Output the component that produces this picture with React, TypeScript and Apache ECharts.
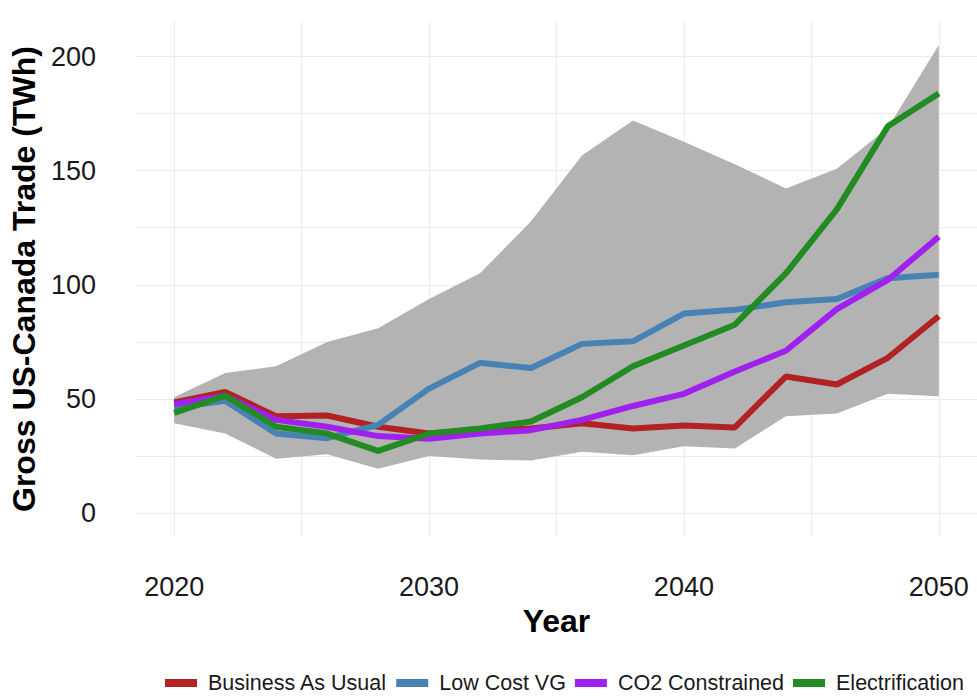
import React, { useEffect, useRef } from "react";
import * as echarts from "echarts";

const years = [2020, 2022, 2024, 2026, 2028, 2030, 2032, 2034, 2036, 2038, 2040, 2042, 2044, 2046, 2048, 2050];
const bandLower = [39.3, 34.8, 23.8, 25.7, 19.4, 25.0, 23.4, 23.0, 26.8, 25.3, 29.2, 28.3, 42.4, 43.6, 52.2, 51.1];
const bandUpper = [50.7, 61.3, 64.3, 74.9, 80.9, 93.8, 105.0, 127.8, 156.6, 172.0, 162.6, 152.8, 142.2, 150.8, 168.7, 205.0];
const businessAsUsual = [48.4, 53.0, 42.4, 42.7, 37.8, 34.8, 36.3, 37.0, 39.3, 37.0, 38.3, 37.5, 59.8, 56.3, 68.0, 86.2];
const lowCostVG = [46.1, 49.2, 34.8, 32.8, 38.6, 54.5, 65.8, 63.5, 74.1, 75.2, 87.4, 89.0, 92.3, 93.8, 102.9, 104.4];
const co2Constrained = [47.7, 51.4, 40.8, 37.8, 33.7, 32.5, 34.8, 36.3, 40.8, 46.9, 52.2, 62.0, 71.1, 89.3, 102.1, 121.0];
const electrification = [43.9, 51.4, 37.8, 34.8, 27.2, 34.8, 37.0, 40.1, 50.7, 64.3, 73.4, 82.5, 105.0, 133.0, 169.4, 183.8];

const seriesNames = ["Business As Usual", "Low Cost VG", "CO2 Constrained", "Electrification"];
const seriesColors = ["#B22222", "#4682B4", "#A020F0", "#228B22"];
const seriesValues = [businessAsUsual, lowCostVG, co2Constrained, electrification];

const xGridValues = [2020, 2025, 2030, 2035, 2040, 2045, 2050];
const xLabelValues = [2020, 2030, 2040, 2050];
const yGridValues = [0, 25, 50, 75, 100, 125, 150, 175, 200];
const yLabelValues = [0, 50, 100, 150, 200];

const FONT = "'Liberation Sans', Arial, sans-serif";

export default function App() {
  const ref = useRef<HTMLDivElement>(null);

  useEffect(() => {
    if (!ref.current) return;
    const chart = echarts.init(ref.current, null, { renderer: "svg" });
    const zip = (vals: number[]) => years.map((y, i) => [y, vals[i]]);

    const option: any = {
      animation: false,
      backgroundColor: "#ffffff",
      textStyle: { fontFamily: FONT },
      grid: { left: 134.75, top: 21.7, width: 848.1, height: 514.7, containLabel: false },
      xAxis: {
        type: "value",
        min: 2018.5,
        max: 2051.5,
        name: "Year",
        nameLocation: "middle",
        nameGap: 67,
        nameTextStyle: { fontFamily: FONT, fontSize: 32, fontWeight: "bold", color: "#000" },
        axisLine: { show: false },
        axisTick: { show: false, customValues: xGridValues },
        axisLabel: {
          customValues: xLabelValues,
          fontFamily: FONT,
          fontSize: 27,
          color: "#1a1a1a",
          margin: 37,
          formatter: (v: number) => String(v),
        },
        splitLine: { show: true, lineStyle: { color: "#ebebeb", width: 1 } },
      },
      yAxis: {
        type: "value",
        min: -10.25,
        max: 215.25,
        name: "Gross US-Canada Trade (TWh)",
        nameLocation: "middle",
        nameGap: 86,
        nameRotate: 90,
        nameTextStyle: { fontFamily: FONT, fontSize: 32, fontWeight: "bold", color: "#000" },
        axisLine: { show: false },
        axisTick: { show: false, customValues: yGridValues },
        axisLabel: {
          customValues: yLabelValues,
          fontFamily: FONT,
          fontSize: 27,
          color: "#1a1a1a",
          margin: 40,
          formatter: (v: number) => String(v),
        },
        splitLine: { show: true, lineStyle: { color: "#ebebeb", width: 1 } },
      },
      legend: {
        data: seriesNames,
        left: 160,
        top: 667,
        icon: "rect",
        itemWidth: 32,
        itemHeight: 8,
        itemGap: 9,
        textStyle: { fontFamily: FONT, fontSize: 21.5, color: "#1a1a1a", padding: [0, 0, 0, 6] },
      },
      series: [
        {
          name: "band",
          type: "custom",
          silent: true,
          z: 1,
          data: years.map((y, i) => [y, bandLower[i], bandUpper[i]]),
          encode: { x: 0, y: [1, 2] },
          renderItem: (params: any, api: any) => {
            if (params.dataIndex !== 0) return null;
            const pts: number[][] = [];
            for (let i = 0; i < years.length; i++) pts.push(api.coord([years[i], bandUpper[i]]));
            for (let i = years.length - 1; i >= 0; i--) pts.push(api.coord([years[i], bandLower[i]]));
            return {
              type: "polygon",
              shape: { points: pts },
              style: { fill: "#b3b3b3", stroke: "none" },
            };
          },
        },
        ...seriesNames.map((name, k) => ({
          name,
          type: "line",
          data: zip(seriesValues[k]),
          symbol: "none",
          showSymbol: false,
          color: seriesColors[k],
          lineStyle: { width: 6, color: seriesColors[k] },
          z: 2 + k,
        })),
      ],
    };
    chart.setOption(option);
    return () => chart.dispose();
  }, []);

  return (
    <div
      ref={ref}
      style={{ position: "fixed", left: 0, top: 0, width: 977, height: 698, background: "#fff" }}
    />
  );
}
